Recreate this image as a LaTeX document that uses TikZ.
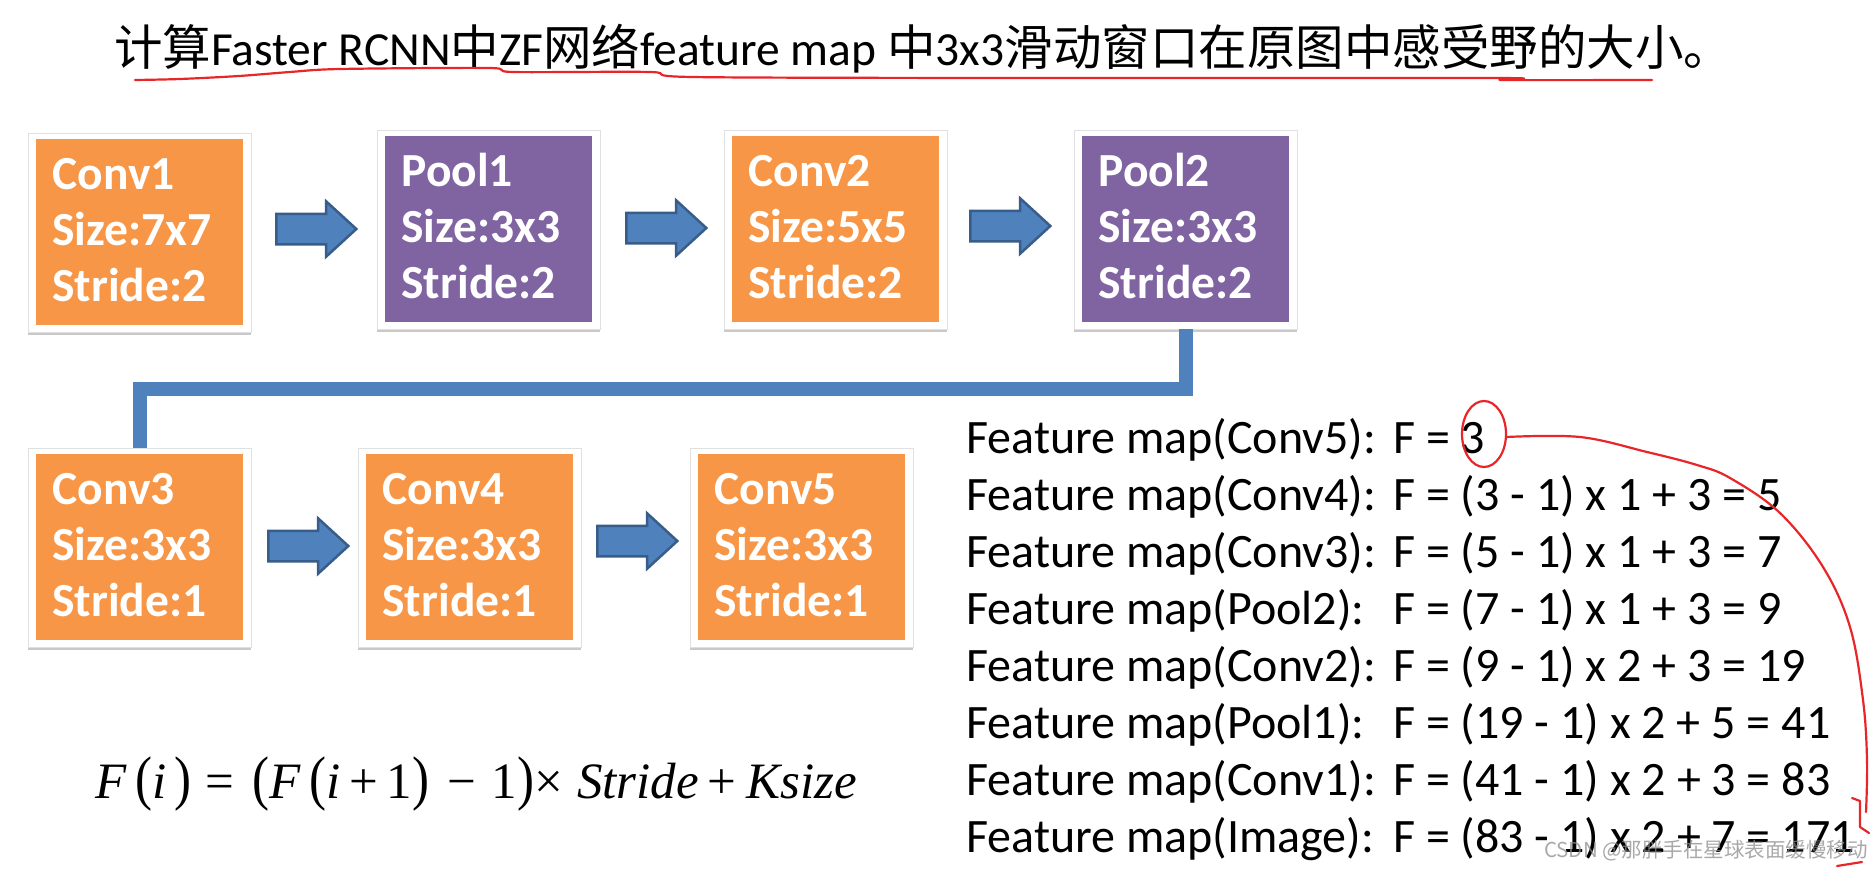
\documentclass[tikz,border=0pt]{standalone}
\usepackage{fontspec}
\usepackage{graphicx}
\setmainfont{Carlito}
\newfontfamily\cjk{Noto Sans CJK SC}
\newfontfamily\tms{Liberation Serif}
\usetikzlibrary{shapes.arrows,shadows,calc}
\definecolor{korange}{HTML}{F79646}
\definecolor{kpurple}{HTML}{8064A2}
\definecolor{kblue}{HTML}{4F81BD}
\definecolor{kbluedark}{HTML}{385D8A}
\definecolor{kred}{HTML}{E8262A}
\newcommand\layerbox[7]{%
  \node[cardframe] (#1f) at ({#2+103.5},{#3+93.5}) {};
  \node[card, fill=#4] (#1) at ({#2+103.5},{#3+93}) {};
  \node[cardtext, anchor=base west] (#1a) at ($(#1.north west)+(16.5,51)$) {#5};
  \node[cardtext, anchor=base west] (#1b) at ($(#1.north west)+(16.5,107)$) {#6};
  \node[cardtext, anchor=base west] (#1c) at ($(#1.north west)+(16.5,163)$) {#7};
}
\newcommand\tp[1]{\scalebox{1}[1.18]{#1}}
\begin{document}
\begin{tikzpicture}[x=1pt,y=-1pt,
  cardframe/.style={fill=white, draw=black!12, line width=0.8, inner sep=0,
    minimum width=223, minimum height=199,
    drop shadow={shadow xshift=0pt, shadow yshift=-3pt, opacity=0.35, fill=black!60}},
  card/.style={inner sep=0, minimum width=207, minimum height=186},
  cardtext/.style={text=white, font=\fontsize{47.5}{56}\selectfont\bfseries, inner sep=0},
  blockarrow/.style={single arrow, fill=kblue, draw=kbluedark, line width=2.5,
    minimum height=80, inner xsep=0, inner ysep=14,
    single arrow head extend=12.5, single arrow tip angle=85},
  conn/.style={draw=kblue, line width=14},
  fm/.style={font=\fontsize{48}{57}\selectfont, inner sep=0, anchor=base west},
  redpen/.style={draw=kred, line width=2.2, line cap=round, line join=round}]
\useasboundingbox (0,0) rectangle (1870,868);
\fill[white] (0,0) rectangle (1870,868);

% title
\node[font=\fontsize{47.5}{50}\selectfont, inner sep=0, anchor=base west] (title) at (114,65)
  {{\cjk\fontsize{48.5}{50}\selectfont 计算}Faster RCNN{\cjk\fontsize{48.5}{50}\selectfont 中}ZF{\cjk\fontsize{48.5}{50}\selectfont 网络}feature map {\cjk\fontsize{48.5}{50}\selectfont 中}3x3{\cjk\fontsize{48.5}{50}\selectfont 滑动窗口在原图中感受野的大小。}};
\draw[redpen] plot[smooth, tension=0.5] coordinates {(135,80) (180,79) (239,76) (290,72) (340,69) (489,68) (513,72) (650,72) (692,77) (1014,78) (1497,78) (1503,80) (1652,80)};

% layers
\layerbox{conv1}{36}{139}{korange}{Conv1}{Size:7x7}{Stride:2}
\layerbox{pool1}{385}{136}{kpurple}{Pool1}{Size:3x3}{Stride:2}
\layerbox{conv2}{732}{136}{korange}{Conv2}{Size:5x5}{Stride:2}
\layerbox{pool2}{1082}{136}{kpurple}{Pool2}{Size:3x3}{Stride:2}
\layerbox{conv3}{36}{454}{korange}{Conv3}{Size:3x3}{Stride:1}
\layerbox{conv4}{366}{454}{korange}{Conv4}{Size:3x3}{Stride:1}
\layerbox{conv5}{698}{454}{korange}{Conv5}{Size:3x3}{Stride:1}

% connector
\draw[conn] (pool2f.south) -- ++(0,60) -| (conv3f.north);

% block arrows
\node[blockarrow] (a1) at (308,229) {};
\node[blockarrow] (a2) at (658,228) {};
\node[blockarrow] (a3) at (1002,226) {};
\node[blockarrow] (a4) at (300,546) {};
\node[blockarrow] (a5) at (629,541) {};

% feature map lines
\foreach \i/\a/\b in {1/{Feature map(Conv5):}/{3},
  2/{Feature map(Conv4):}/{(3 - 1) x 1 + 3 = 5},
  3/{Feature map(Conv3):}/{(5 - 1) x 1 + 3 = 7},
  4/{Feature map(Pool2):}/{(7 - 1) x 1 + 3 = 9},
  5/{Feature map(Conv2):}/{(9 - 1) x 2 + 3 = 19},
  6/{Feature map(Pool1):}/{(19 - 1) x 2 + 5 = 41},
  7/{Feature map(Conv1):}/{(41 - 1) x 2 + 3 = 83},
  8/{Feature map(Image):}/{(83 - 1) x 2 + 7 = 171}}
  {\node[fm] (fm\i) at (966,{453+57*(\i-1)}) {\makebox[427pt][l]{\a}F = \b};}

% formula
\node[font=\tms\fontsize{51}{51}\selectfont, inner sep=0, anchor=base west] (fx) at (95,798)
  {\textit{F}\,\tp{(}\textit{i}\,\tp{)}\hspace{14pt}=\hspace{18pt}\tp{(}\textit{F}\,\tp{(}\textit{i}\,+\,1\tp{)}\hspace{18pt}−\hspace{16pt}1\tp{)}×\hspace{14pt}\textit{Stride}\hspace{9pt}+\hspace{10pt}\textit{Ksize}};

% red annotation
\draw[redpen] (1484,434) ellipse [x radius=22, y radius=33];
\draw[redpen] plot[smooth, tension=0.6] coordinates {(1506,437) (1580,437) (1647,452) (1697,465) (1730,478) (1780,513) (1823,567) (1850,627) (1863,700) (1867,760) (1866,812)};
\draw[redpen] (1852,798) -- (1860,801) -- (1860,827) -- (1869,833);
\draw[redpen] (1837,866) -- (1862,862);

% watermark
\node[font=\cjk\fontsize{20.5}{21}\selectfont, text=black!45, opacity=0.75, inner sep=0, anchor=base west] (wm) at (1544,857) {CSDN @那胖手在星球表面缓慢移动};
\end{tikzpicture}
\end{document}
